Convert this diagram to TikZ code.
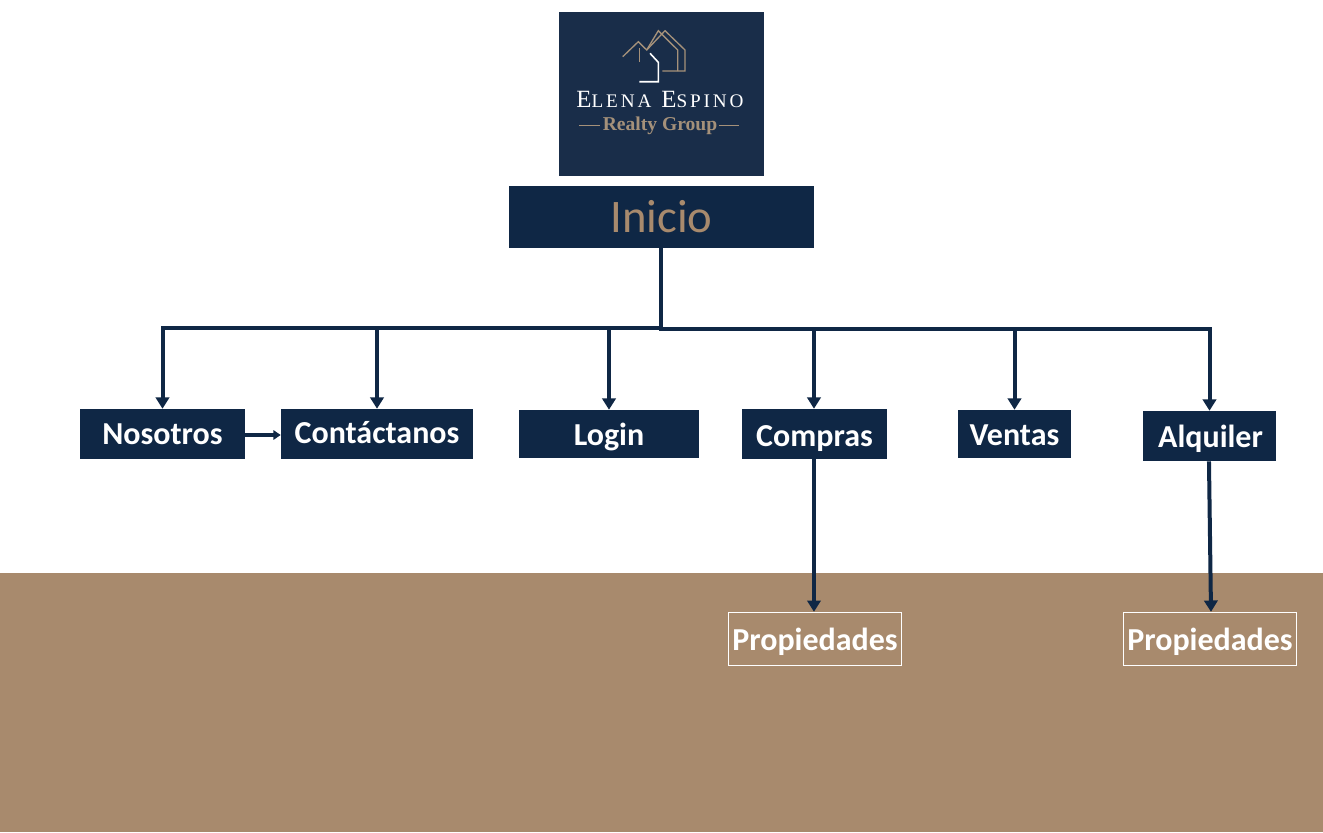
\documentclass[tikz,border=0pt]{standalone}
\usepackage{fontspec}
\setmainfont{Carlito}
\newfontfamily\logofont[LetterSpace=15]{Liberation Serif}
\newfontfamily\logosubfont{Liberation Serif}
\usetikzlibrary{arrows.meta}
\definecolor{navy}{HTML}{0F2745}
\definecolor{logonavy}{HTML}{192D49}
\definecolor{tan}{HTML}{A88A6D}
\definecolor{tanlogo}{HTML}{A5917A}
\tikzset{
  x=0.75pt,y=-0.75pt,
  basefix/.style={text depth=2pt,text height={2pt+1.5pt*#1}},
  menubox/.style={fill=navy,text=white,inner sep=0pt,font=\fontsize{24}{26}\selectfont\bfseries},
  propbox/.style={draw=white,line width=0.75pt,text=white,inner sep=0pt,minimum width=129.75pt,minimum height=40pt,font=\fontsize{24}{26}\selectfont\bfseries,basefix=11},
  conn/.style={draw=navy,line width=3pt,-{Triangle[length=8.5pt,width=10pt]}},
  thinconn/.style={draw=navy,line width=2.3pt,-{Triangle[length=5.5pt,width=7pt]}},
  trunk/.style={draw=navy,line width=3.2pt},
  tanline/.style={draw=tanlogo,line width=1pt},
  whiteline/.style={draw=white,line width=1.2pt},
}
\begin{document}
\begin{tikzpicture}
\useasboundingbox (0,0) rectangle (1323,832);
\fill[white] (0,0) rectangle (1323,832);
\fill[tan] (0,573) rectangle (1323,832);
% logo
\fill[logonavy] (559,12) rectangle (764,176);
\draw[tanline] (622.7,56.7) -- (638.3,41.7) -- (646.7,50) -- (665,30.7) -- (685,50) -- (685,71) -- (662.3,71);
\draw[tanline] (639.3,61.7) -- (639.3,48.3);
\draw[tanline] (646.7,50) -- (658.3,30.7) -- (677.7,50) -- (677.7,71);
\draw[whiteline] (650,53.3) -- (658.3,62.3) -- (658.3,81.7) -- (639.3,81.7);
\node[text=white,inner sep=0pt,anchor=base] (logoname) at (660,107.7) {\logofont\fontsize{18.6}{20}\selectfont E\fontsize{14.4}{20}\selectfont LENA\fontsize{18.6}{20}\selectfont\ E\fontsize{14.4}{20}\selectfont SPINO};
\node[text=tanlogo,inner sep=0pt,anchor=base] (logosub) at (660,130) {\logosubfont\fontsize{14.7}{16}\selectfont\bfseries Realty Group};
\draw[tanline] (579,125.7) -- (600,125.7) (719,125.7) -- (739,125.7);
% nodes
\node[fill=navy,text=tan,inner sep=0pt,minimum width=228.75pt,minimum height=46.5pt,font=\fontsize{35}{38}\selectfont,basefix=15] (inicio) at (661.5,217) {Inicio};
\node[menubox,minimum width=123.75pt,minimum height=37.5pt,basefix=10.5] (nosotros) at (162.5,434) {Nosotros};
\node[menubox,minimum width=144pt,minimum height=37.5pt,basefix=9] (contacto) at (377,434) {Contáctanos};
\node[menubox,minimum width=135pt,minimum height=36pt,basefix=11] (login) at (609,434) {Login};
\node[menubox,minimum width=108.75pt,minimum height=37.5pt,basefix=12] (compras) at (814.5,434) {Compras};
\node[menubox,minimum width=84.75pt,minimum height=36pt,basefix=11] (ventas) at (1014.5,434) {Ventas};
\node[menubox,minimum width=99.75pt,minimum height=37.5pt,basefix=11.7] (alquiler) at (1209.5,436) {\hspace{1.5pt}Alquiler};
\node[propbox] (propa) at (815,639) {Propiedades};
\node[propbox] (propb) at (1210,639) {Propiedades};
% connectors
\coordinate (busl) at (661,328);
\coordinate (busr) at (661,329);
\draw[trunk] (inicio.south -| busl) -- (661,331);
\draw[conn] (busl) -| (nosotros.north);
\draw[conn] (busl) -| (contacto.north);
\draw[conn] (busl) -| (login.north);
\draw[conn] ([xshift=-0.4pt]busr) -| ([xshift=-0.4pt]compras.north);
\draw[conn] (busr) -| (ventas.north);
\draw[conn] (busr) -| (alquiler.north);
\draw[thinconn] ([yshift=-0.75pt]nosotros.east) -- ([yshift=-0.75pt]contacto.west);
\draw[conn] ([xshift=-0.4pt]compras.south) -- ([xshift=-0.4pt]compras.south |- propa.north);
\draw[conn] ([xshift=-0.4pt]alquiler.south) -- ([xshift=0.75pt]propb.north);
\end{tikzpicture}
\end{document}
